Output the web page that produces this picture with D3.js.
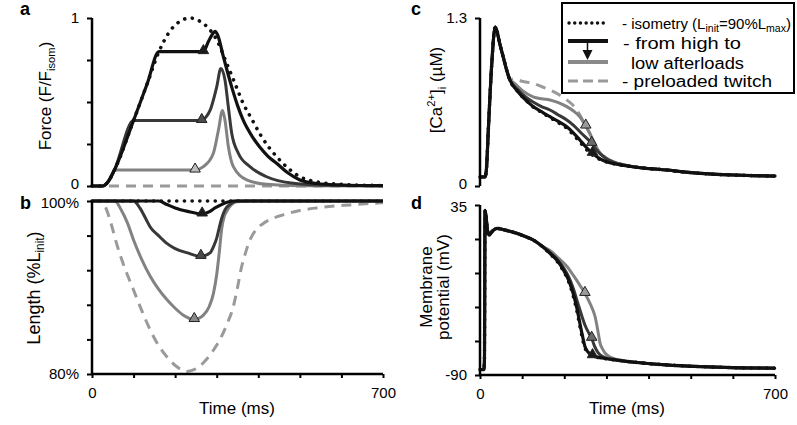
<!DOCTYPE html>
<html><head><meta charset="utf-8">
<script src="https://cdn.jsdelivr.net/npm/d3@7"></script>
<style>
body{margin:0;background:#fff;}
svg{font-family:"Liberation Sans",Arial,sans-serif;}
</style></head><body>
<svg id="c" width="797" height="425"></svg>
<script>
// ---------- DATA ----------
const timeDomain = [0, 700];
const xTickValues = [0,100,200,300,400,500,600,700];
const xTickLabels = {0:"0",700:"700"};

// Panel a: force (F/Fisom)
const forceTicks = [0,0.25,0.5,0.75,1];
const forceTickLabels = {0:"0",1:"1"};
const forceIsometry = [[0,0],[26,0],[40,0.03],[54,0.095],[100,0.39],[133,0.61],[161,0.80],[190,0.93],[215,0.985],[236,1.0],[260,0.98],[280,0.94],[300,0.87],[324,0.73],[344,0.61],[364,0.49],[384,0.40],[404,0.31],[424,0.235],[444,0.175],[470,0.11],[500,0.055],[540,0.025],[600,0.01],[700,0.003]];
const forceHigh = [[0,0],[26,0],[40,0.03],[54,0.095],[100,0.39],[133,0.61],[161,0.80],[268,0.80],[280,0.86],[290,0.905],[296,0.92],[302,0.90],[316,0.77],[336,0.59],[350,0.48],[364,0.39],[384,0.30],[404,0.23],[424,0.175],[444,0.135],[470,0.08],[500,0.036],[540,0.015],[600,0.006],[700,0.002]];
const forceMid = [[0,0],[26,0],[40,0.03],[54,0.095],[100,0.39],[264,0.39],[274,0.41],[284,0.45],[300,0.59],[310,0.70],[320,0.63],[328,0.47],[336,0.315],[352,0.195],[380,0.115],[420,0.055],[484,0.016],[560,0.004],[700,0.001]];
const forceLow = [[0,0],[26,0],[40,0.03],[55,0.095],[248,0.095],[268,0.115],[292,0.195],[304,0.33],[314,0.45],[320,0.39],[328,0.235],[340,0.115],[372,0.036],[420,0.01],[500,0.002],[700,0]];
const forcePreload = [[0,0],[700,0]];
const forceMarkers = [[268,0.80],[264,0.39],[248,0.095]];

// Panel b: length (%Linit)
const lengthTicks = [80,84,88,92,96,100];
const lengthTickLabels = {80:"80%",100:"100%"};
const lengthIsometry = [[0,100],[700,100]];
const lengthHigh = [[0,100],[161,100],[180,99.6],[200,99.2],[230,98.8],[265,98.5],[284,98.8],[296,99.2],[308,99.5],[325,99.85],[340,100],[700,100]];
const lengthMid = [[0,100],[100,100],[115,99.2],[130,97.9],[140,97.0],[160,96.0],[180,95.1],[200,94.5],[230,94.0],[262,93.6],[284,94.0],[292,94.7],[300,95.7],[306,96.9],[312,98],[320,99],[332,99.6],[348,100],[700,100]];
const lengthLow = [[0,100],[55,100],[70,99],[85,97.5],[100,95.5],[120,93.2],[140,91.3],[160,89.8],[180,88.6],[200,87.6],[220,86.8],[246,86.3],[268,86.8],[282,87.8],[292,89.3],[300,91.5],[306,94],[312,96.8],[318,98.2],[324,98.8],[348,99.9],[380,100],[700,100]];
const lengthPreload = [[0,100],[20,100],[28,99.7],[35,99.0],[47,97.2],[59,95.1],[80,92.1],[100,89.7],[120,87.3],[140,85.1],[160,83.3],[180,82.0],[205,80.8],[228,80.3],[250,80.6],[268,81.3],[290,82.6],[308,84],[325,85.8],[340,87.8],[350,90.0],[358,92.0],[368,93.8],[380,95.5],[395,96.7],[412,97.4],[435,98.0],[460,98.4],[500,98.9],[540,99.2],[620,99.55],[700,99.8]];
const lengthMarkers = [[265,98.5],[262,93.6],[246,86.3]];

// Panel c: [Ca2+]i (uM)
const caTicks = [0,1.3];
const caTickLabels = {0:"0",1.3:"1.3"};
const caRise = [[0,0.07],[12,0.07],[15,0.12],[20,0.45],[28,0.95],[36,1.23],[40,1.2],[47,1.10],[55,1.0],[63,0.9],[71,0.82]];
const caTail = [[363,0.149],[400,0.135],[443,0.124],[480,0.11],[522,0.098],[560,0.09],[601,0.085],[650,0.08],[700,0.077]];
const caHigh = [[90,0.73],[110,0.66],[126,0.615],[146,0.575],[166,0.536],[186,0.50],[206,0.459],[222,0.41],[237,0.356],[252,0.30],[267,0.253],[285,0.21],[300,0.188],[330,0.165]];
const caIsometry = [[90,0.73],[110,0.66],[126,0.612],[146,0.57],[166,0.53],[186,0.49],[206,0.447],[222,0.395],[237,0.34],[252,0.285],[267,0.24],[285,0.205],[300,0.186],[330,0.164]];
const caMid = [[90,0.745],[110,0.685],[126,0.65],[146,0.615],[166,0.588],[186,0.55],[206,0.511],[222,0.47],[240,0.41],[265,0.33],[280,0.265],[300,0.21],[330,0.17]];
const caLow = [[80,0.80],[100,0.74],[126,0.69],[146,0.675],[166,0.666],[186,0.645],[206,0.614],[222,0.58],[237,0.536],[251,0.464],[260,0.41],[268,0.356],[276,0.30],[285,0.255],[300,0.215],[316,0.188],[340,0.165]];
const caPreload = [[80,0.83],[100,0.81],[126,0.795],[146,0.77],[166,0.743],[186,0.71],[206,0.666],[222,0.62],[235,0.56],[245,0.50],[251,0.464],[260,0.41],[268,0.356],[276,0.30],[285,0.255],[300,0.215],[316,0.188],[340,0.165]];
const caMarkers = [[267,0.253],[265,0.33],[251,0.464]];

// Panel d: membrane potential (mV)
const vmTicks = [-90,-65,-40,-15,10,35];
const vmTickLabels = {"-90":"-90","35":"35"};
const vmRise = [[0,-86],[9,-86],[10.5,-80],[12,31],[14.5,26],[18,16],[22,13],[30,16],[40,17.8],[60,16.5],[87,14.2],[106,12],[126,9.3],[146,5]];
const vmTail = [[380,-81],[443,-82.6],[520,-83.8],[601,-84.6],[700,-85]];
const vmHigh = [[166,-0.5],[182,-5.5],[198,-12.8],[210,-20],[221,-30],[230,-41],[237,-52],[243,-61],[249,-69],[256,-73],[267,-75.8],[290,-77.5],[324,-79]];
const vmIsometry = [[166,-0.8],[182,-6],[198,-13.5],[210,-21],[221,-31.5],[230,-43],[237,-54],[243,-63],[249,-70],[256,-73.5],[267,-76],[290,-77.6],[324,-79]];
const vmMid = [[166,0],[182,-4.5],[198,-11],[210,-17.5],[221,-26],[232,-37],[242,-47],[250,-54],[258,-59],[265,-63],[272,-69],[280,-73.5],[295,-77],[324,-79]];
const vmLow = [[166,1.5],[186,-4],[206,-10],[222,-17],[237,-24],[249,-30],[262,-38],[273,-47],[280,-58],[285,-66.7],[291,-71],[297,-74],[310,-77],[330,-79]];
const vmMarkers = [[267,-75.8],[265,-63],[249,-30]];

// ---------- DRAW ----------
const svg = d3.select("#c");
const xL = d3.scaleLinear().domain(timeDomain).range([92,383]);
const xR = d3.scaleLinear().domain(timeDomain).range([480,775]);
const yA = d3.scaleLinear().domain([0,1]).range([186,18]);
const yB = d3.scaleLinear().domain([80,100]).range([374,201]);
const yC = d3.scaleLinear().domain([0,1.3]).range([186,18]);
const yD = d3.scaleLinear().domain([-90,35]).range([375,205]);

const styles = {
  preload:{stroke:"#9a9a9a",width:3,dash:"10 7"},
  low:{stroke:"#828282",width:3},
  mid:{stroke:"#383838",width:3},
  high:{stroke:"#111",width:3.2},
  iso:{stroke:"#111",width:3.6,dash:"0.1 7.6",cap:"round"}
};
function drawLine(data,x,y,st){
  const line = d3.line().x(d=>x(d[0])).y(d=>y(d[1])).curve(d3.curveMonotoneX);
  svg.append("path").attr("d",line(data)).attr("fill","none")
    .attr("stroke",st.stroke).attr("stroke-width",st.width)
    .attr("stroke-dasharray",st.dash||null).attr("stroke-linecap",st.cap||"butt")
    .attr("stroke-linejoin","round");
}
const markerFills = ["#1a1a1a","#4a4a4a","#bdbdbd"];
const markerFillsB = ["#1a1a1a","#4a4a4a","#8a8a8a"];
function drawMarkers(data,x,y,fills){
  const sym = d3.symbol().type(d3.symbolTriangle).size(48);
  data.forEach((d,i)=>{
    svg.append("path").attr("d",sym()).attr("transform",`translate(${x(d[0])},${y(d[1])-1})`)
      .attr("fill",fills[i]).attr("stroke","#222").attr("stroke-width",1);
  });
}
function yAxis(scale,x,ticks,labels,shift){
  const g = svg.append("g").attr("transform",`translate(${x},0)`)
    .call(d3.axisLeft(scale).tickValues(ticks).tickSize(5).tickPadding(8)
      .tickFormat(d=>labels[d]!==undefined?labels[d]:""));
  g.select(".domain").attr("stroke","#000").attr("stroke-width",2.5).attr("d",`M0,${scale.range()[0]}V${scale.range()[1]}`);
  g.selectAll(".tick line").attr("stroke","#000").attr("stroke-width",2);
  g.selectAll("text").attr("font-size",15).attr("fill","#000").attr("font-family","Liberation Sans, Arial, sans-serif");
  if(shift) g.selectAll(".tick text").attr("y",d=>shift[d]||0);
  return g;
}
function xAxis(scale,y){
  const g = svg.append("g").attr("transform",`translate(0,${y})`)
    .call(d3.axisBottom(scale).tickValues(xTickValues).tickSize(4).tickPadding(9)
      .tickFormat(d=>xTickLabels[d]||""));
  g.select(".domain").attr("stroke","#000").attr("stroke-width",2.5).attr("d",`M${scale.range()[0]},0H${scale.range()[1]}`);
  g.selectAll(".tick line").attr("stroke","#000").attr("stroke-width",2);
  g.selectAll("text").attr("font-size",15).attr("fill","#000").attr("font-family","Liberation Sans, Arial, sans-serif");
}

// Panel a
drawLine(forcePreload,xL,yA,styles.preload);
drawLine(forceLow,xL,yA,styles.low);
drawLine(forceMid,xL,yA,styles.mid);
drawLine(forceHigh,xL,yA,styles.high);
drawLine(forceIsometry,xL,yA,styles.iso);
drawMarkers(forceMarkers,xL,yA,markerFills);
yAxis(yA,92,forceTicks,forceTickLabels,{0:-2});

// Panel b
drawLine(lengthPreload,xL,yB,styles.preload);
drawLine(lengthIsometry,xL,yB,styles.iso);
drawLine(lengthLow,xL,yB,styles.low);
drawLine(lengthMid,xL,yB,styles.mid);
drawLine(lengthHigh,xL,yB,styles.high);
drawMarkers(lengthMarkers,xL,yB,markerFillsB);
yAxis(yB,92,lengthTicks,lengthTickLabels,{100:2});
xAxis(xL,374);

// Panel c
drawLine(caRise.concat(caPreload,caTail),xR,yC,styles.preload);
drawLine(caRise.concat(caLow,caTail),xR,yC,styles.low);
drawLine(caRise.concat(caMid,caTail),xR,yC,styles.mid);
drawLine(caRise.concat(caHigh,caTail),xR,yC,styles.high);
drawLine(caRise.concat(caIsometry,caTail),xR,yC,styles.iso);
drawMarkers(caMarkers,xR,yC,["#1a1a1a","#6a6a6a","#9a9a9a"]);
yAxis(yC,480,caTicks,caTickLabels,{0:-2});

// Panel d
drawLine(vmRise.concat(vmLow,vmTail),xR,yD,styles.low);
drawLine(vmRise.concat(vmMid,vmTail),xR,yD,styles.mid);
drawLine(vmRise.concat(vmHigh,vmTail),xR,yD,styles.high);
drawLine(vmRise.concat(vmIsometry,vmTail),xR,yD,styles.iso);
drawMarkers(vmMarkers,xR,yD,["#1a1a1a","#6a6a6a","#9a9a9a"]);
yAxis(yD,480,vmTicks,vmTickLabels,{35:2});
xAxis(xR,375);

// Panel letters
[["a",20,15],["b",20,209],["c",411,15],["d",411,209]].forEach(p=>{
  svg.append("text").attr("x",p[1]).attr("y",p[2]).text(p[0])
    .attr("font-size",18).attr("font-weight","bold");
});

// Axis titles
function rotLabel(x,y,parts,size){
  const t = svg.append("text").attr("transform",`translate(${x},${y}) rotate(-90)`)
    .attr("text-anchor","middle").attr("font-size",size);
  parts.forEach(p=>{
    const s = t.append("tspan").text(p[0]);
    if(p[1]==="sub") s.attr("font-size",size*0.66).attr("dy",4);
    if(p[1]==="sup") s.attr("font-size",size*0.66).attr("dy",-7);
    if(p[2]) s.attr("dy",p[2]);
  });
  return t;
}
rotLabel(51,96,[["Force (F/F"],["isom","sub"],[")",null,-4]],17);
rotLabel(40,288,[["Length (%L"],["init","sub"],[")",null,-4]],18);
rotLabel(442,90,[["[Ca"],["2+","sup"],["]",null,7],["i","sub",4],[" (µM)",null,-4]],17);
svg.append("text").attr("transform","translate(432,287) rotate(-90)").attr("text-anchor","middle").attr("font-size",17).text("Membrane");
svg.append("text").attr("transform","translate(449,287) rotate(-90)").attr("text-anchor","middle").attr("font-size",17).text("potential (mV)");

svg.append("text").attr("x",237).attr("y",414).attr("text-anchor","middle").attr("font-size",17).text("Time (ms)");
svg.append("text").attr("x",627).attr("y",414).attr("text-anchor","middle").attr("font-size",17).text("Time (ms)");

// Legend
const lg = svg.append("g");
lg.append("rect").attr("x",562).attr("y",3).attr("width",232).attr("height",90)
  .attr("fill","#fff").attr("stroke","#000").attr("stroke-width",2);
lg.append("line").attr("x1",569).attr("x2",607).attr("y1",23).attr("y2",23)
  .attr("stroke","#111").attr("stroke-width",3.4).attr("stroke-dasharray","0.1 5.6").attr("stroke-linecap","round");
lg.append("line").attr("x1",568).attr("x2",608).attr("y1",41).attr("y2",41).attr("stroke","#111").attr("stroke-width",4);
lg.append("line").attr("x1",568).attr("x2",608).attr("y1",62).attr("y2",62).attr("stroke","#8a8a8a").attr("stroke-width",4);
lg.append("line").attr("x1",587.5).attr("x2",587.5).attr("y1",41).attr("y2",52).attr("stroke","#111").attr("stroke-width",1.5);
lg.append("path").attr("d","M582.5,50L592.5,50L587.5,60Z").attr("fill","#111");
lg.append("line").attr("x1",568).attr("x2",610).attr("y1",81).attr("y2",81)
  .attr("stroke","#9a9a9a").attr("stroke-width",3).attr("stroke-dasharray","10 5");
const lt1 = lg.append("text").attr("x",622).attr("y",29).attr("font-size",15)
  .attr("textLength",169).attr("lengthAdjust","spacingAndGlyphs");
lt1.append("tspan").text("- isometry (L");
lt1.append("tspan").text("init").attr("font-size",10.5).attr("dy",3);
lt1.append("tspan").text("=90%L").attr("dy",-3);
lt1.append("tspan").text("max").attr("font-size",10.5).attr("dy",3);
lt1.append("tspan").text(")").attr("dy",-3);
lg.append("text").attr("x",623).attr("y",49).attr("font-size",16).attr("textLength",118).attr("lengthAdjust","spacingAndGlyphs").text("- from high to");
lg.append("text").attr("x",631).attr("y",69).attr("font-size",16).attr("textLength",113).attr("lengthAdjust","spacingAndGlyphs").text("low afterloads");
lg.append("text").attr("x",622).attr("y",87).attr("font-size",16).attr("textLength",150).attr("lengthAdjust","spacingAndGlyphs").text("- preloaded twitch");
</script>
</body></html>
